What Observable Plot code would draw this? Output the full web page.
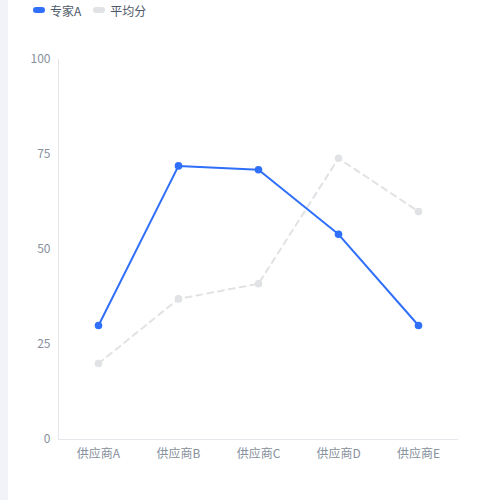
<!DOCTYPE html>
<html><head><meta charset="utf-8">
<script src="https://cdn.jsdelivr.net/npm/d3@7"></script>
<script src="https://cdn.jsdelivr.net/npm/@observablehq/plot@0.6"></script>
<style>
body{margin:0;background:#fff;font-family:"Noto Sans CJK SC","Noto Sans",sans-serif;}
#wrap{position:relative;width:500px;height:500px;overflow:hidden;}
#strip{position:absolute;left:0;top:0;width:8px;height:500px;background:#f2f3f8;}
#legend{position:absolute;left:33px;top:0;height:20px;display:flex;align-items:center;font-size:12px;color:#4e5969;}
.sw{display:inline-block;width:12px;height:6px;border-radius:3px;margin-right:5px;}
.it{display:flex;align-items:center;margin-right:12px;}
#chart{position:absolute;left:0;top:20px;}
</style></head>
<body><div id="wrap"><div id="strip"></div>
<div id="legend"><span class="it"><span class="sw" style="background:#2f6ffa"></span>专家A</span><span class="it"><span class="sw" style="background:#e1e2e5"></span>平均分</span></div>
<div id="chart"></div></div>
<script>
const categories = ["供应商A","供应商B","供应商C","供应商D","供应商E"];
const expertA = [30, 72, 71, 54, 30];
const average = [20, 37, 41, 74, 60];
const yTicks = [0, 25, 50, 75, 100];

const dataA = categories.map((c,i)=>({cat:c, v:expertA[i]}));
const dataAvg = categories.map((c,i)=>({cat:c, v:average[i]}));

const plot = Plot.plot({
  width: 500, height: 460,
  marginLeft: 58, marginRight: 42, marginTop: 39, marginBottom: 41,
  style: {fontFamily: '"Noto Sans CJK SC","Noto Sans",sans-serif', fontSize: "12px", color: "#86909c", background: "transparent"},
  x: {type: "point", domain: categories, padding: 0.5, label: null},
  y: {domain: [0, 100], label: null},
  marks: [
    Plot.frame({anchor: "left", stroke: "#e5e6eb", strokeWidth: 1}),
    Plot.ruleY([0], {stroke: "#e5e6eb", strokeWidth: 1}),
    Plot.axisY({ticks: yTicks, tickSize: 0, tickPadding: 8, fill: "#86909c", label: null}),
    Plot.axisX({tickSize: 0, tickPadding: 10, fill: "#86909c", label: null}),
    Plot.line(dataAvg, {x: "cat", y: "v", stroke: "#e1e2e5", strokeWidth: 2, strokeDasharray: "6,5"}),
    Plot.dot(dataAvg, {x: "cat", y: "v", fill: "#e1e2e5", r: 3.8}),
    Plot.line(dataA, {x: "cat", y: "v", stroke: "#2f6ffa", strokeWidth: 2}),
    Plot.dot(dataA, {x: "cat", y: "v", fill: "#2f6ffa", r: 3.8})
  ]
});
document.getElementById("chart").appendChild(plot);
</script></body></html>
